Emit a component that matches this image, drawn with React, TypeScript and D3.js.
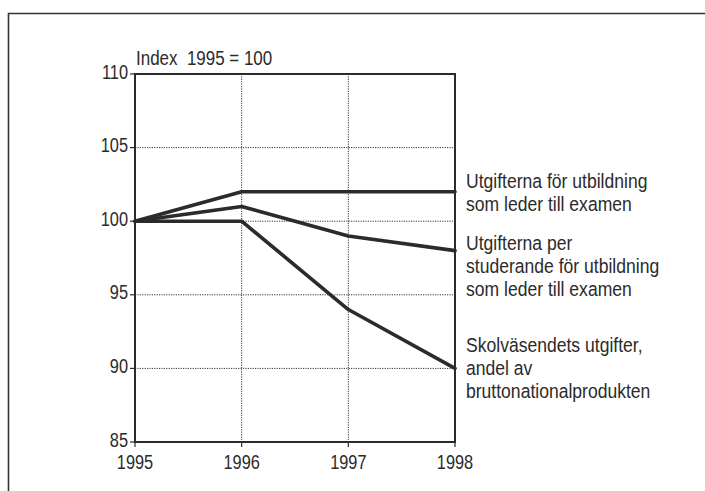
import React from "react";
import * as d3 from "d3";

// Years on the x axis and index values (1995 = 100) per series
const years = [1995, 1996, 1997, 1998];
const yTicks = [85, 90, 95, 100, 105, 110];
const gridY = [90, 95, 100, 105];
const gridX = [1996, 1997];

const utgifterExamen = [100, 102, 102, 102];
const utgifterPerStuderande = [100, 101, 99, 98];
const skolvasendetBnp = [100, 100, 94, 90];

const seriesLabels = [
  ["Utgifterna för utbildning", "som leder till examen"],
  ["Utgifterna per", "studerande för utbildning", "som leder till examen"],
  ["Skolväsendets utgifter,", "andel av", "bruttonationalprodukten"],
];

const unitLabel = "Index  1995 = 100";

const W = 705;
const H = 491;
const FONT = "'Liberation Sans', Arial, sans-serif";
const INK = "#2b2b2b";
const FS = 19.5;

// Condensed text: horizontally squeezed around its anchor point
function CText({
  x,
  y,
  sx,
  anchor = "start",
  children,
}: {
  x: number;
  y: number;
  sx: number;
  anchor?: "start" | "middle" | "end";
  children: React.ReactNode;
}) {
  return (
    <text
      transform={`translate(${x},${y}) scale(${sx},1)`}
      textAnchor={anchor}
      fontSize={FS}
      fill={INK}
      style={{ whiteSpace: "pre" }}
    >
      {children}
    </text>
  );
}

export default function App() {
  const x = d3.scaleLinear().domain([1995, 1998]).range([135, 455]);
  const y = d3.scaleLinear().domain([85, 110]).range([442, 74]);

  const line = d3
    .line<number>()
    .x((_, i) => x(years[i]))
    .y((v) => y(v));

  const series = [utgifterExamen, utgifterPerStuderande, skolvasendetBnp];
  const labelTops = [188, 250, 352];
  const lineGap = 23;

  return (
    <svg
      width={W}
      height={H}
      style={{ position: "absolute", left: 0, top: 0, background: "#fff" }}
      fontFamily={FONT}
    >
      {/* outer frame, open to the right and bottom */}
      <path d={`M8.5,${H + 5} V13.5 H${W + 5}`} fill="none" stroke="#333" strokeWidth={1.6} />

      {/* dotted grid */}
      {gridY.map((v) => (
        <line
          key={"gy" + v}
          x1={x(1995)}
          x2={x(1998)}
          y1={y(v)}
          y2={y(v)}
          stroke="#333"
          strokeWidth={1}
          strokeDasharray="1.2,1.2"
        />
      ))}
      {gridX.map((v) => (
        <line
          key={"gx" + v}
          x1={x(v)}
          x2={x(v)}
          y1={y(110)}
          y2={y(85)}
          stroke="#333"
          strokeWidth={1}
          strokeDasharray="1.2,1.2"
        />
      ))}

      {/* plot box */}
      <rect
        x={x(1995)}
        y={y(110)}
        width={x(1998) - x(1995)}
        height={y(85) - y(110)}
        fill="none"
        stroke={INK}
        strokeWidth={2}
      />

      {/* y ticks */}
      {yTicks.map((v) => (
        <g key={"yt" + v}>
          <line x1={x(1995) - 5} x2={x(1995)} y1={y(v)} y2={y(v)} stroke={INK} strokeWidth={1.2} />
          <CText x={x(1995) - 7} y={y(v) + 4.5} sx={0.84} anchor="end">
            {v}
          </CText>
        </g>
      ))}

      {/* x ticks */}
      {years.map((v) => (
        <g key={"xt" + v}>
          <line x1={x(v)} x2={x(v)} y1={y(85)} y2={y(85) + 5} stroke={INK} strokeWidth={1.2} />
          <CText x={x(v)} y={469} sx={0.84} anchor="middle">
            {v}
          </CText>
        </g>
      ))}

      <CText x={136} y={65} sx={0.87}>
        {unitLabel}
      </CText>

      {/* series */}
      {series.map((s, i) => (
        <path
          key={"s" + i}
          d={line(s) ?? ""}
          fill="none"
          stroke={INK}
          strokeWidth={3.6}
          strokeLinejoin="round"
          strokeLinecap="round"
        />
      ))}

      {/* series labels */}
      {seriesLabels.map((lines, i) => (
        <g key={"l" + i}>
          {lines.map((t, j) => (
            <CText key={j} x={466} y={labelTops[i] + j * lineGap} sx={0.9}>
              {t}
            </CText>
          ))}
        </g>
      ))}
    </svg>
  );
}
